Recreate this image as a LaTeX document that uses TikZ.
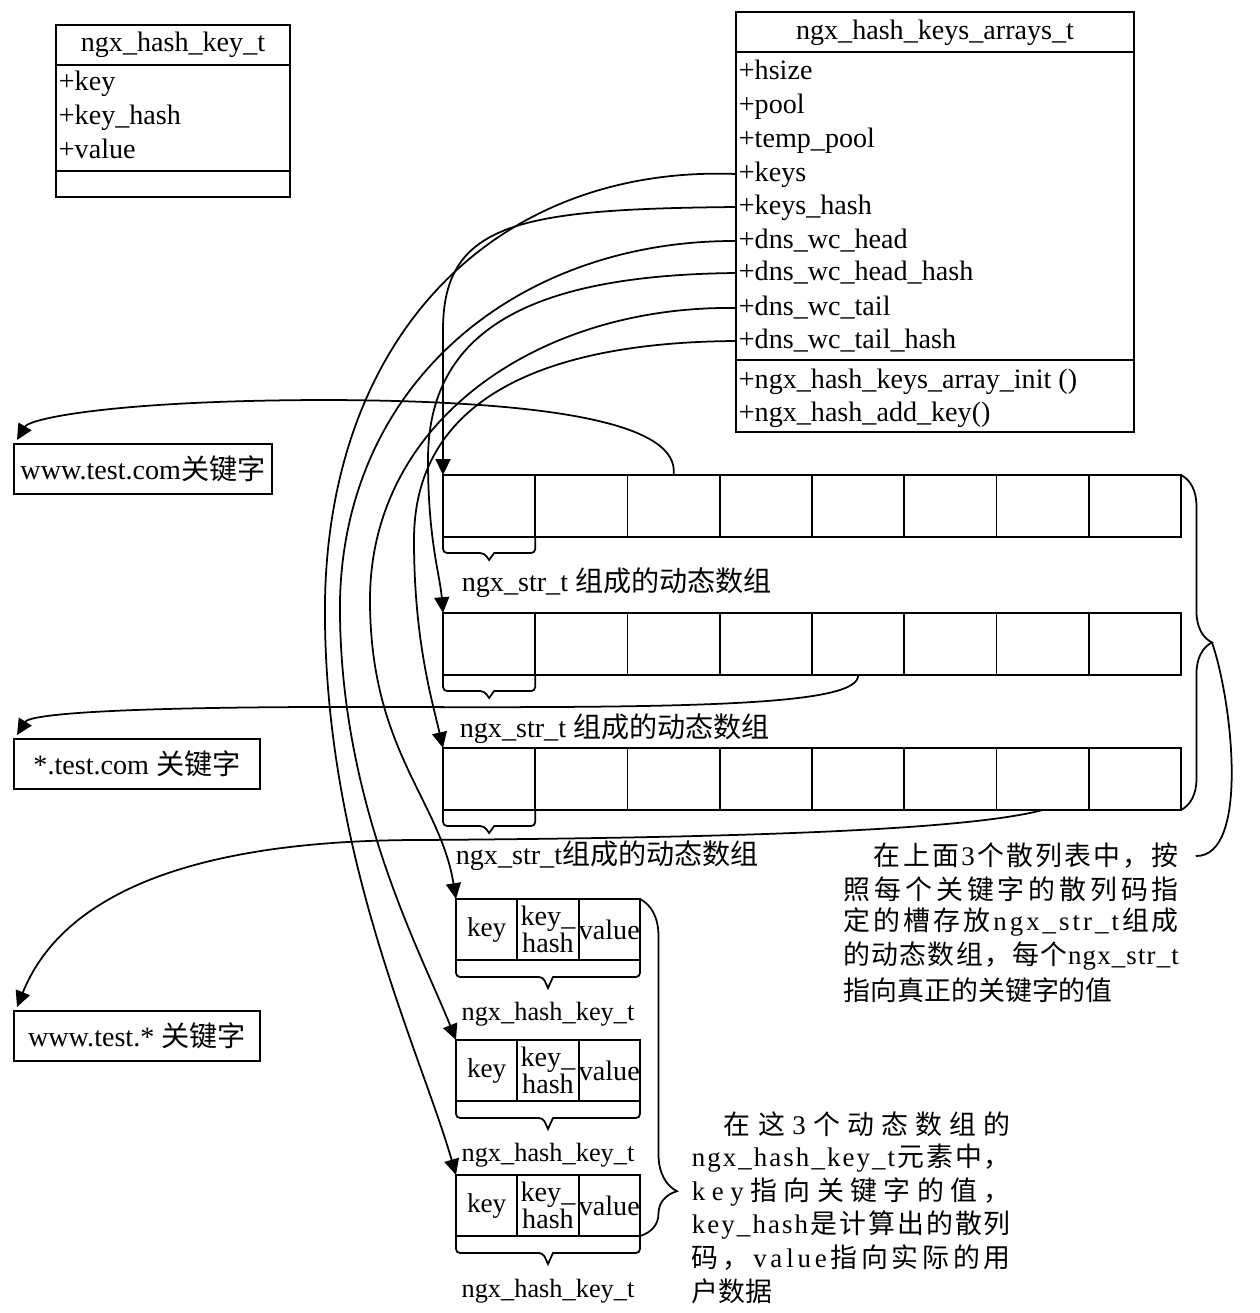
\documentclass[tikz,border=0pt]{standalone}
\usepackage{fontspec}
\setmainfont{Liberation Serif}
\newfontfamily\cjkfont{Noto Sans CJK SC}
\usetikzlibrary{arrows.meta,calc,decorations.pathreplacing}
\newdimen\px \px=0.02cm
\newcommand\fsz[1]{\fontsize{#1}{#1}\selectfont}
% han characters switch to the cjk font by themselves
\newXeTeXintercharclass\cjkcls
\newcount\cjkn
\newcommand\cjkrange[2]{\cjkn=#1\relax
  \loop\XeTeXcharclass\cjkn=\cjkcls
  \ifnum\cjkn<#2\relax\advance\cjkn by 1\repeat}
\cjkrange{"3000}{"303F}
\cjkrange{"4E00}{"9FFF}
\cjkrange{"FF00}{"FFEF}
\XeTeXinterchartoks 0 \cjkcls = {\begingroup\cjkfont}
\XeTeXinterchartoks 4095 \cjkcls = {\begingroup\cjkfont}
\XeTeXinterchartoks \cjkcls 0 = {\endgroup}
\XeTeXinterchartoks \cjkcls 4095 = {\endgroup}
% one justified line of the notes
\def\jlstop{\jlstop}
\def\jlstopx{\jlstop}
\newcommand\jline[2]{\hbox to #1{\jlfirst#2\jlstop}}
\def\jlfirst#1{{#1}\jlrest}
\def\jlrest#1{\def\jltmp{#1}\ifx\jltmp\jlstopx\else\hskip0pt plus 1fil{#1}\expandafter\jlrest\fi}
% open box with a tip under cells
\newcommand\bucket[4]{\draw[brc] (#1.south west) [rounded corners=0.08cm] -- ++(0,#3)
  -- ($(#1.south west)!0.5!(#2.south east)+(-5,#3)$) [sharp corners] -- ++(5,#4) -- ++(5,-#4)
  [rounded corners=0.08cm] -| (#2.south east);}
\XeTeXinterchartokenstate=1
\begin{document}
\begin{tikzpicture}[x=0.02cm, y=-0.02cm, line width=1pt,
  box/.style={draw, line width=1.1pt},
  title/.style={font=\fsz{16}, inner sep=0pt},
  row/.style={anchor=west, inner ysep=0pt, inner xsep=0.04cm, text height=0.42cm, text depth=0.12cm, font=\fsz{16}},
  cell/.style={draw, line width=1.1pt, anchor=north west, minimum width=1.845cm, minimum height=1.24cm, inner sep=0pt, outer sep=0pt},
  kcell/.style={draw, line width=1.1pt, anchor=north west, minimum width=1.2267cm, minimum height=1.22cm, inner sep=0pt, outer sep=0pt, align=center, font=\fsz{15.5}},
  kwbox/.style={draw, line width=1.1pt, anchor=north west, minimum height=1cm, inner sep=0pt, font=\fsz{16}},
  lbl/.style={anchor=west, inner sep=0pt, font=\fsz{16}},
  klbl/.style={inner sep=0pt, font=\fsz{15}},
  note/.style={anchor=west, inner sep=0pt, font=\fsz{15.3}},
  brc/.style={line width=1pt},
  arr/.style={-{Triangle[length=9pt,width=8.5pt]}}]
\useasboundingbox (0,0) rectangle (1260,1313);
% ngx_hash_key_t
\draw[box] (56,25) rectangle (290,197);
\draw[box] (56,65) -- (290,65);
\draw[box] (56,171) -- (290,171);
\node[title] (hk) at (173,45) {ngx\_hash\_key\_t};
\node[row] (hk-key) at (56,83) {+key};
\node[row] (hk-keyhash) at (56,117) {+key\_hash};
\node[row] (hk-value) at (56,151) {+value};
% ngx_hash_keys_arrays_t
\draw[box] (736,12) rectangle (1134,432);
\draw[box] (736,52) -- (1134,52);
\draw[box] (736,360) -- (1134,360);
\node[title] (ka) at (935,33) {ngx\_hash\_keys\_arrays\_t};
\node[row] (hsize) at (736,72) {+hsize};
\node[row] (pool) at (736,106) {+pool};
\node[row] (temppool) at (736,140) {+temp\_pool};
\node[row] (keys) at (736,174) {+keys};
\node[row] (keyshash) at (736,207) {+keys\_hash};
\node[row] (dnshead) at (736,241) {+dns\_wc\_head};
\node[row] (dnsheadhash) at (736,273) {+dns\_wc\_head\_hash};
\node[row] (dnstail) at (736,308) {+dns\_wc\_tail};
\node[row] (dnstailhash) at (736,341) {+dns\_wc\_tail\_hash};
\node[row] (init) at (736,381) {+ngx\_hash\_keys\_array\_init ()};
\node[row] (addkey) at (736,414) {+ngx\_hash\_add\_key()};
% keyword boxes
\node[kwbox, minimum width=5.16cm] (kw1) at (13,443) {www.test.com关键字};
\node[kwbox, minimum width=4.92cm] (kw2) at (13,738) {*.test.com 关键字};
\node[kwbox, minimum width=4.92cm] (kw3) at (13,1010) {www.test.* 关键字};
\coordinate (w1) at ($(kw1.north west)+(4,-3)$);
\coordinate (w2) at ($(kw2.north west)+(4,-3)$);
\coordinate (w3) at ($(kw3.north west)+(4,-3)$);
% hash tables
\foreach \r/\y in {1/475,2/613,3/748}{
  \foreach \c in {1,...,8}
    \node[cell] (a\r-\c) at ({443+(\c-1)*92.25},\y) {};
  \bucket{a\r-1}{a\r-1}{16}{7}
}
\node[lbl] (s1) at (461,583) {ngx\_str\_t 组成的动态数组};
\node[lbl] (s2) at (459,729) {ngx\_str\_t 组成的动态数组};
\node[lbl] (s3) at (455,856) {ngx\_str\_t组成的动态数组};
% ngx_hash_key_t arrays
\foreach \r/\y in {1/899,2/1040,3/1175}{
  \node[kcell] (k\r-1) at (456,\y) {key};
  \node[kcell, font=\fontsize{16}{13.5}\selectfont] (k\r-2) at (517.33,\y) {key\_\\hash};
  \node[kcell, font=\fsz{16}] (k\r-3) at (578.67,\y) {value};
  \bucket{k\r-1}{k\r-3}{17}{11}
}
\node[klbl] (kl1) at (548,1014) {ngx\_hash\_key\_t};
\node[klbl] (kl2) at (548,1155) {ngx\_hash\_key\_t};
\node[klbl] (kl3) at (548,1291) {ngx\_hash\_key\_t};
% notes
\node[note] (t1-1) at (873,856) {\jline{305\px}{在上面3个散列表中，按}};
\node[note] (t1-2) at (843,889) {\jline{335\px}{照每个关键字的散列码指}};
\node[note] (t1-3) at (843,922) {\jline{335\px}{定的槽存放ngx\_str\_t组成}};
\node[note] (t1-4) at (843,956) {\jline{335\px}{的动态数组，每个ngx\_str\_t}};
\node[note] (t1-5) at (843,990) {指向真正的关键字的值};
\node[note] (t2-1) at (723,1124) {\jline{287\px}{在这3个动态数组的}};
\node[note] (t2-2) at (691,1158) {\jline{319\px}{ngx\_hash\_key\_t元素中，}};
\node[note] (t2-3) at (691,1192) {\jline{319\px}{key指向关键字的值，}};
\node[note] (t2-4) at (691,1225) {\jline{319\px}{key\_hash是计算出的散列}};
\node[note] (t2-5) at (691,1258) {\jline{319\px}{码，value指向实际的用}};
\node[note] (t2-6) at (691,1291) {户数据};
% braces
\draw[brc, decorate, decoration={brace, amplitude=0.62cm}] (a1-8.north east) -- (a3-8.south east);
\coordinate (atip) at ($(a1-8.north east)!0.5!(a3-8.south east)+(31,0)$);
\draw[brc] (atip) .. controls (1232,700) and (1250,857) .. ($(t1-1.east)+(16,0)$);
\draw[brc, decorate, decoration={brace, amplitude=0.74cm, aspect=0.867}] (k1-3.north east) -- (k3-3.south east);
\begin{scope}[arr]
\draw (keys.west) .. controls (500,165) and (330,330) .. (325,600) .. controls (322,850) and (420,1050) .. (k3-1.north west);
\draw (keyshash.west) .. controls (520,209) and (443,222) .. (443,330) -- (a1-1.north west);
\draw (dnshead.west) .. controls (520,240) and (345,380) .. (340,600) .. controls (338,800) and (420,950) .. (k2-1.north west);
\draw (dnsheadhash.west) .. controls (530,275) and (428,330) .. (428,460) .. controls (428,540) and (440,575) .. (a2-1.north west);
\draw (dnstail.west) .. controls (540,305) and (370,420) .. (370,600) .. controls (370,750) and (440,800) .. (k1-1.north west);
\draw (dnstailhash.west) .. controls (560,342) and (414,390) .. (414,540) .. controls (414,640) and (432,700) .. (a3-1.north west);
\draw (a1-3.north) .. controls (680,425) and (560,401) .. (330,400) .. controls (120,400) and (30,418) .. (w1);
\draw (a2-5.south) .. controls (860,705) and (700,708) .. (400,707) .. controls (120,706) and (30,714) .. (w2);
\draw (a3-7.south) .. controls (960,832) and (700,838) .. (420,840) .. controls (180,840) and (60,900) .. (w3);
\end{scope}
\end{tikzpicture}
\end{document}
